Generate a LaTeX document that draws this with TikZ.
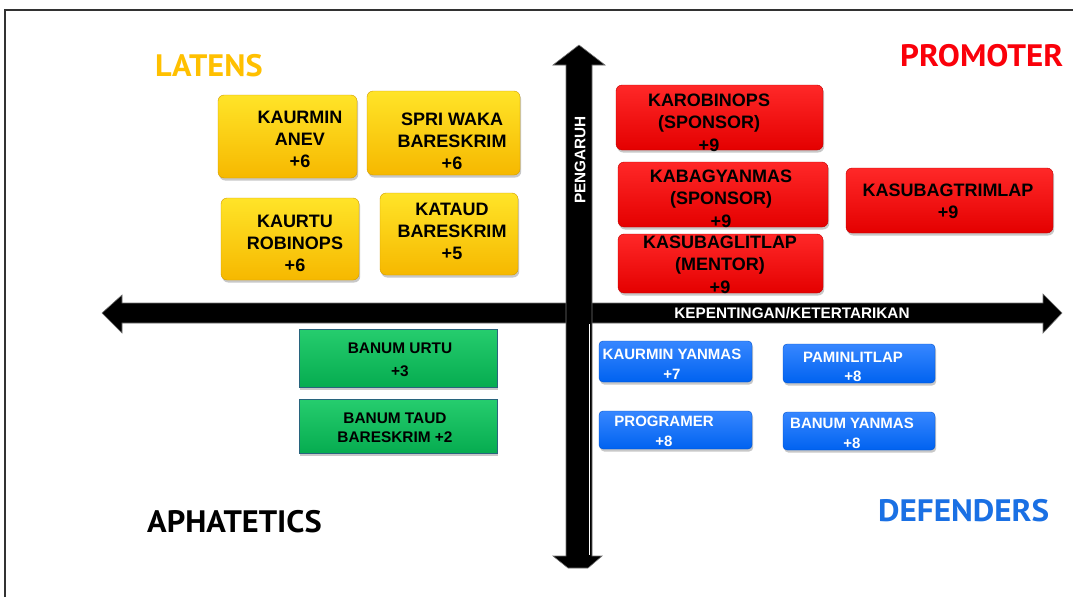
\documentclass[tikz,border=0pt]{standalone}
\usepackage{fontspec}
\usepackage{graphicx}
\setmainfont{Liberation Sans}
\newfontfamily\headfont{PT Sans}
\usetikzlibrary{shadows}
\definecolor{ytop}{RGB}{255,228,40}
\definecolor{ybot}{RGB}{246,184,0}
\definecolor{rtop}{RGB}{255,40,40}
\definecolor{rbot}{RGB}{228,0,0}
\definecolor{gtop}{RGB}{38,205,110}
\definecolor{gbot}{RGB}{6,172,80}
\definecolor{gline}{RGB}{40,100,125}
\definecolor{btop}{RGB}{55,135,255}
\definecolor{bbot}{RGB}{0,98,240}
\definecolor{latens}{RGB}{255,192,0}
\definecolor{promoter}{RGB}{250,0,10}
\definecolor{defenders}{RGB}{26,112,228}
\definecolor{framec}{RGB}{50,50,50}
\newcommand{\card}[9]{%
  \node[#2, minimum width={#5-#3}, minimum height={#6-#4}] (#1) at ({(#3+#5)/2},{(#4+#6)/2}) {};%
  \node[#2 text] (#1-t) at (#7,#8) {#9};%
}
\newcommand{\wide}[2]{\scalebox{#1}[1]{#2}}
\begin{document}
\begin{tikzpicture}[x=1pt,y=-1pt,
  card/.style={inner sep=0pt, outer sep=0pt,
    drop shadow={shadow xshift=1.2pt, shadow yshift=-2.5pt, opacity=0.3, fill=black!70}},
  ycard/.style={card, rounded corners=6pt, top color=ytop, bottom color=ybot, draw=ybot!85!black, line width=0.4pt},
  rcard/.style={card, rounded corners=6pt, top color=rtop, bottom color=rbot, draw=rbot!85!black, line width=0.4pt},
  gcard/.style={card, top color=gtop, bottom color=gbot, draw=gline, line width=1pt},
  bcard/.style={card, rounded corners=4pt, top color=btop, bottom color=bbot, draw=bbot!85!black, line width=0.4pt},
  ycard text/.style={inner sep=0pt, align=center, text=black, font=\bfseries\fontsize{18}{22}\selectfont},
  rcard text/.style={inner sep=0pt, align=center, text=black, font=\bfseries\fontsize{18}{22.5}\selectfont},
  gcard text/.style={inner sep=0pt, align=center, text=black, font=\bfseries\fontsize{15.4}{19}\selectfont},
  bcard text/.style={inner sep=0pt, align=center, text=white, font=\bfseries\fontsize{15}{19.5}\selectfont},
  heading/.style={inner sep=0pt, anchor=west, font=\headfont\bfseries\fontsize{31}{31}\selectfont},
  axislabel/.style={inner sep=0pt, text=white, font=\bfseries\fontsize{15.3}{15.3}\selectfont},
  axisarrow/.style={fill=black, draw=black!55, line width=0.6pt}
]
\useasboundingbox (0,0) rectangle (1073,597);
\fill[white] (0,0) rectangle (1073,597);
% frame (clipped at right and bottom)
\draw[framec, line width=1.2pt] (5,597) -- (5,10) -- (1073,10);

% headings
\node[heading, text=latens] (latens) at (155,66) {\wide{1.04}{LATENS}};
\node[heading, text=promoter] (promoter) at (900,55.5) {\wide{1.065}{PROMOTER}};
\node[heading, text=black] (aphatetics) at (147,522) {\wide{1.045}{APHATETICS}};
\node[heading, text=defenders] (defenders) at (878,511) {\wide{1.07}{DEFENDERS}};

% axes
\filldraw[axisarrow] (102,313) -- (122,295) -- (122,303) -- (1043,303) -- (1043,294)
  -- (1062,313) -- (1043,333) -- (1043,323) -- (122,323) -- (122,333) -- cycle;
\filldraw[axisarrow] (579,45) -- (605,65) -- (592,65) -- (592,556) -- (602,556)
  -- (588,568) -- (568,568) -- (553,556) -- (566,556) -- (566,65) -- (553,65) -- cycle;
\draw[white, line width=0.7pt] (589.5,324) -- (589.5,555);
\node[axislabel] (kepentingan) at (792,313) {KEPENTINGAN/KETERTARIKAN};
\node[axislabel, rotate=90] (pengaruh) at (580,160) {PENGARUH};

% latens (yellow)
\card{kaurmin}{ycard}{218}{95}{357}{178}{300}{139}{KAURMIN\\ANEV\\+6}
\card{spri}{ycard}{367}{91}{520}{175}{452}{141}{SPRI WAKA\\BARESKRIM\\+6}
\card{kaurtu}{ycard}{221}{198}{359}{280}{295}{243}{KAURTU\\ROBINOPS\\+6}
\card{kataud}{ycard}{380}{193}{518}{275}{452}{231.5}{KATAUD\\BARESKRIM\\+5}

% promoter (red)
\card{karobinops}{rcard}{616}{85}{823}{150}{709}{122.5}{KAROBINOPS\\(SPONSOR)\\+9}
\card{kabagyanmas}{rcard}{618}{162}{828}{227}{721}{198.5}{KABAGYANMAS\\(SPONSOR)\\+9}
\card{kasubaglitlap}{rcard}{618}{234}{823}{293}{720}{264.5}{KASUBAGLITLAP\\(MENTOR)\\+9}
\card{kasubagtrimlap}{rcard}{846}{168}{1053}{233}{948}{201.5}{KASUBAGTRIMLAP\\+9}

% apathetics (green)
\card{banumurtu}{gcard}{299}{329}{497}{387}{400}{359.5}{BANUM URTU\\[4pt]+3}
\card{banumtaud}{gcard}{299}{399}{497}{453}{395}{427.5}{BANUM TAUD\\BARESKRIM +2}

% defenders (blue)
\card{kaurminyanmas}{bcard}{599}{341}{752}{382}{672}{364.5}{KAURMIN YANMAS\\+7}
\card{paminlitlap}{bcard}{783}{344}{935}{383}{853}{367}{PAMINLITLAP\\+8}
\card{programer}{bcard}{599}{411}{752}{449}{664}{431.5}{PROGRAMER\\+8}
\card{banumyanmas}{bcard}{783}{412}{935}{450}{852}{433.5}{BANUM YANMAS\\+8}
\end{tikzpicture}
\end{document}
